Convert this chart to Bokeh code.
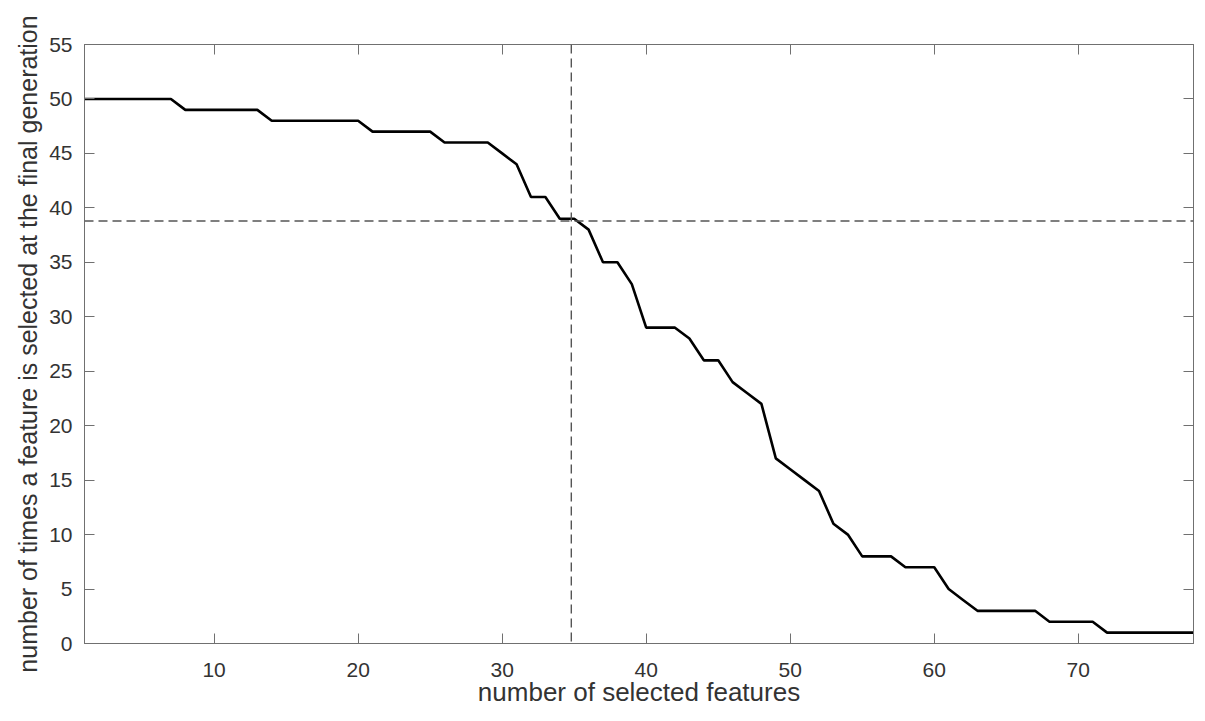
from bokeh.plotting import figure
from bokeh.models import Range1d, LinearAxis, FixedTicker, Span, CustomLabelingPolicy
from bokeh.embed import file_html
from bokeh.resources import INLINE

# ---- data ----
num_selected = [1, 2, 3, 4, 5, 6, 7, 8, 9, 10, 11, 12, 13, 14, 15, 16, 17, 18, 19, 20,
                21, 22, 23, 24, 25, 26, 27, 28, 29, 30, 31, 32, 33, 34, 35, 36, 37, 38, 39, 40,
                41, 42, 43, 44, 45, 46, 47, 48, 49, 50, 51, 52, 53, 54, 55, 56, 57, 58, 59, 60,
                61, 62, 63, 64, 65, 66, 67, 68, 69, 70, 71, 72, 73, 74, 75, 76, 77, 78]
times_selected = [50, 50, 50, 50, 50, 50, 50, 49, 49, 49, 49, 49, 49, 48, 48, 48, 48, 48, 48, 48,
                  47, 47, 47, 47, 47, 46, 46, 46, 46, 45, 44, 41, 41, 39, 39, 38, 35, 35, 33, 29,
                  29, 29, 28, 26, 26, 24, 23, 22, 17, 16, 15, 14, 11, 10, 8, 8, 8, 7, 7, 7,
                  5, 4, 3, 3, 3, 3, 3, 2, 2, 2, 2, 1, 1, 1, 1, 1, 1, 1]
x_ticks = [10, 20, 30, 40, 50, 60, 70]
y_ticks = [0, 5, 10, 15, 20, 25, 30, 35, 40, 45, 50, 55]
cut_x = 34.8
cut_y = 38.8

FONT = "Liberation Sans"
TEXT = "#333333"
AXC = "#707070"

p = figure(width=1197, height=713, output_backend="svg", toolbar_location=None,
           x_range=Range1d(1, 78), y_range=Range1d(0, 55),
           min_border_left=84, min_border_top=44, min_border_right=2, min_border_bottom=70)
p.background_fill_color = "white"
p.border_fill_color = "white"
p.outline_line_color = AXC
p.grid.visible = False

p.line(num_selected, times_selected, line_color="black", line_width=2.6)

p.add_layout(Span(location=cut_x, dimension="height", line_color="#555555",
                  line_width=1.4, line_dash="9 5"))
p.add_layout(Span(location=cut_y, dimension="width", line_color="#555555",
                  line_width=1.4, line_dash="9 5"))

def style(ax, ticks):
    ax.ticker = FixedTicker(ticks=ticks)
    ax.axis_line_color = AXC
    ax.major_tick_line_color = AXC
    ax.major_tick_in = 10
    ax.major_tick_out = 0
    ax.minor_tick_line_color = None
    ax.major_label_text_font = FONT
    ax.major_label_text_color = TEXT
    ax.axis_label_text_font = FONT
    ax.axis_label_text_color = TEXT
    ax.axis_label_text_font_style = "normal"

xa = p.xaxis[0]
style(xa, x_ticks)
xa.major_label_text_font_size = "21px"
xa.major_label_standoff = 19
xa.axis_label = "number of selected features"
xa.axis_label_text_font_size = "26px"
xa.axis_label_standoff = -3

ya = p.yaxis[0]
style(ya, y_ticks)
ya.major_label_text_font_size = "21px"
ya.major_label_standoff = 12
ya.axis_label = "number of times a feature is selected at the final generation"
ya.axis_label_text_font_size = "25px"
ya.axis_label_standoff = 4

top = LinearAxis()
style(top, x_ticks)
top.major_label_policy = CustomLabelingPolicy(code="""
for (const i of Array.from(indices)) { indices.unset(i) }
return indices
""")
top.major_label_text_font_size = "1px"
top.major_label_standoff = 0
p.add_layout(top, "above")

right = LinearAxis()
style(right, y_ticks)
right.major_label_policy = CustomLabelingPolicy(code="""
for (const i of Array.from(indices)) { indices.unset(i) }
return indices
""")
right.major_label_text_font_size = "1px"
right.major_label_standoff = 0
p.add_layout(right, "right")

open("out.html", "w").write(file_html(p, INLINE))
